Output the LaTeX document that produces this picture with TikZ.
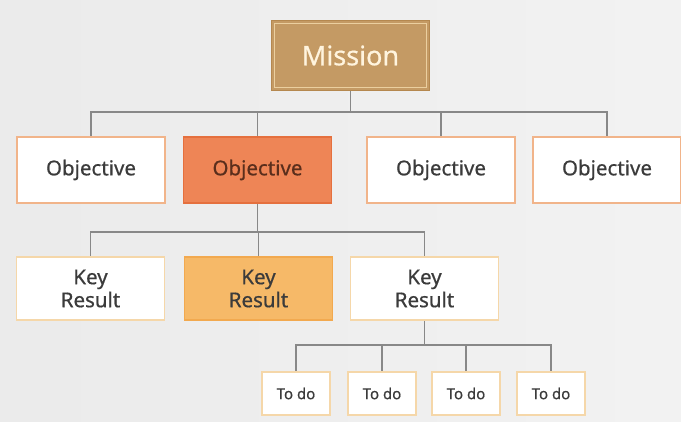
\documentclass[tikz,border=0pt]{standalone}
\usepackage{fontspec}
\setmainfont{Noto Sans}[FakeBold=0.6]
\usetikzlibrary{positioning}

\definecolor{tan}{HTML}{C49A64}
\definecolor{tanedge}{HTML}{B5884F}
\definecolor{tanline}{HTML}{EBCF9F}
\definecolor{cream}{HTML}{FFF4DE}
\definecolor{peach}{HTML}{F1B48A}
\definecolor{coral}{HTML}{EE8556}
\definecolor{coraledge}{HTML}{E5703E}
\definecolor{rust}{HTML}{5A2E1C}
\definecolor{amber}{HTML}{F6B968}
\definecolor{amberedge}{HTML}{F2A94F}
\definecolor{sand}{HTML}{F5D7A9}
\definecolor{ink}{HTML}{3B3B3B}
\definecolor{wire}{HTML}{888888}

\begin{document}
\begin{tikzpicture}[x=1pt,y=-1pt,
  box/.style={rectangle,draw=peach,fill=white,line width=1.6pt,inner sep=0pt,
    text=ink,font=\fontsize{20.5}{23}\selectfont,align=center},
  mission node/.style={box,draw=tanedge,fill=tan,text=cream,
    minimum width=158pt,minimum height=70pt,font=\fontsize{27}{30}\selectfont},
  obj node/.style={box,minimum width=148pt,minimum height=66pt},
  kr node/.style={box,draw=sand,minimum width=148pt,minimum height=63pt,
    font=\fontsize{20.5}{23}\selectfont},
  todo node/.style={box,draw=sand,minimum width=68pt,minimum height=43pt,
    font=\fontsize{15}{17}\selectfont},
  link/.style={draw=wire,line width=1.6pt}]
% backdrop
  \useasboundingbox (0,0) rectangle (681,422);
  \shade[left color=gray!16,middle color=white,right color=gray!10] (0,0) rectangle (681,422);

% mission
  \node[mission node] (mission) at (350.5,55.5) {Mission};
  \draw[tanline,line width=1.4pt] ([shift={(4,4)}]mission.north west) rectangle ([shift={(-4,-4)}]mission.south east);

% objectives
  \node[obj node] (obj1) at (91,170) {Objective};
  \node[obj node,fill=coral,draw=coraledge,text=rust] (obj2) at (257.5,170) {Objective};
  \node[obj node] (obj3) at (441,170) {Objective};
  \node[obj node] (obj4) at (607,170) {Objective};

% key results
  \node[kr node] (kr1) at (90.5,288.5) {Key\\Result};
  \node[kr node,fill=amber,draw=amberedge] (kr2) at (258.5,288.5) {Key\\Result};
  \node[kr node] (kr3) at (424.5,288.5) {Key\\Result};

% to dos
  \node[todo node] (td1) at (296,393.5) {To do};
  \node[todo node] (td2) at (382,393.5) {To do};
  \node[todo node] (td3) at (466,393.5) {To do};
  \node[todo node] (td4) at (551,393.5) {To do};

% branch points
  \coordinate (bus1) at (350.5,112);
  \coordinate (bus2) at (257.5,232);
  \coordinate (bus3) at (424.5,345);

% wiring
  \draw[link] (mission.south) -- (bus1);
  \foreach \n in {obj1,obj2,obj3,obj4}
    \draw[link] (bus1) -| (\n.north);
  \draw[link] (obj2.south) -- (bus2);
  \foreach \n in {kr1,kr2,kr3}
    \draw[link] (bus2) -| (\n.north);
  \draw[link] (kr3.south) -- (bus3);
  \foreach \n in {td1,td2,td3,td4}
    \draw[link] (bus3) -| (\n.north);
\end{tikzpicture}
\end{document}
